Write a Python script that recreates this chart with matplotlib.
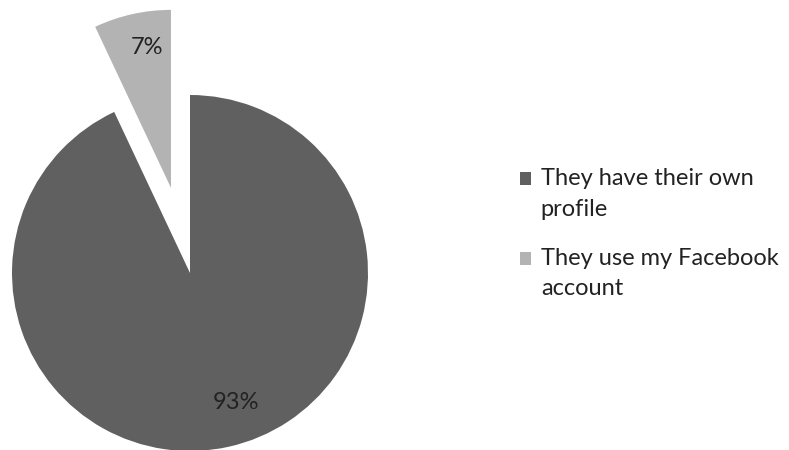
import numpy as np
import matplotlib.pyplot as plt
from matplotlib.patches import Rectangle
from matplotlib.legend_handler import HandlerPatch

labels = ["They have their own\nprofile", "They use my Facebook\naccount"]
shares = [93, 7]
colors = ["#606060", "#b3b3b3"]
explode = [0, 0.49]

plt.rcParams['font.family'] = ['Lato', 'DejaVu Sans']

fig = plt.figure(figsize=(7.89, 4.5), dpi=100)
# pie centre at about (190, 273) px, radius 178 px
r = 178.0
W, H = 789.0, 450.0
x0, x1 = -1.05, 1.05
y0, y1 = -1.0, 1.53
ax = fig.add_axes([(190 + x0 * r) / W, (H - (273 - y0 * r)) / H,
                   (x1 - x0) * r / W, (y1 - y0) * r / H])

wedges, texts, autotexts = ax.pie(
    shares, colors=colors, explode=explode, startangle=90, counterclock=False,
    autopct=lambda p: f"{p:.0f}%", pctdistance=0.79,
    wedgeprops=dict(linewidth=0),
    textprops=dict(fontsize=17, color="#222222"))
autotexts[0].set_position((0.26, -0.73))
px, py = autotexts[1].get_position()
autotexts[1].set_position((px + 0.04, py + 0.02))

ax.set_xlim(x0, x1)
ax.set_ylim(y0, y1)
ax.axis("off")


# square marker lined up with the first line of a two-line label
def top_square(legend, orig_handle, xdescent, ydescent, width, height, fontsize):
    return Rectangle((-xdescent, -ydescent + 11.3), width, height)


leg = fig.legend(wedges, labels, loc="upper left", bbox_to_anchor=(499 / W, 1 - 147 / H),
                 frameon=False, fontsize=17, handlelength=0.47, handleheight=0.47,
                 handletextpad=0.4, labelspacing=1.2, labelcolor="#222222",
                 handler_map={w: HandlerPatch(patch_func=top_square) for w in wedges})
for t in leg.get_texts():
    t.set_linespacing(1.55)

fig.savefig("out.png", dpi=100)
